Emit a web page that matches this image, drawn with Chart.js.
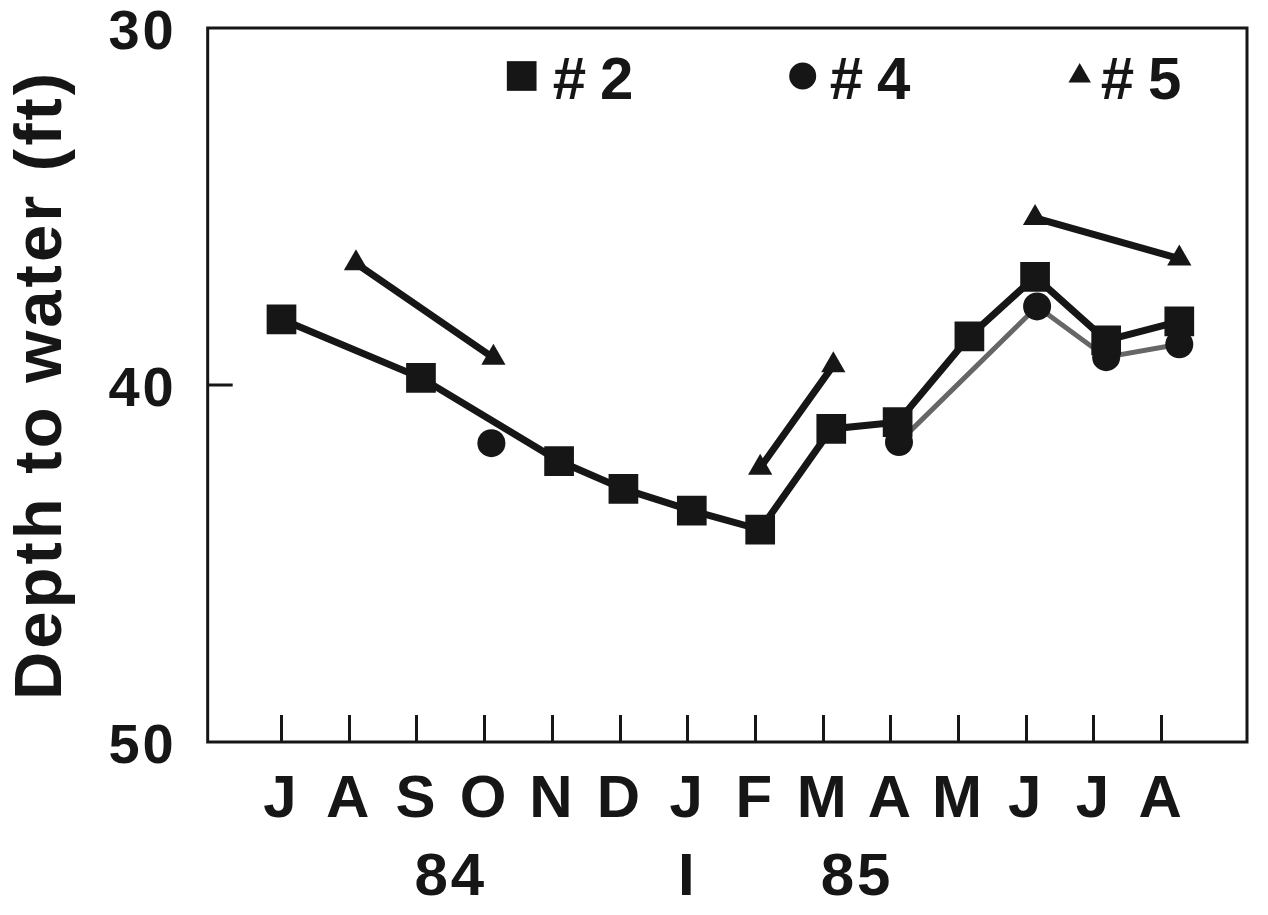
<!DOCTYPE html>
<html>
<head>
<meta charset="utf-8">
<title>Depth to water</title>
<script src="https://cdn.jsdelivr.net/npm/chart.js@4.4.0/dist/chart.umd.min.js"></script>
<style>
  html, body { margin: 0; padding: 0; background: #fff; }
  #chart { display: block; }
</style>
</head>
<body>
<canvas id="chart" width="1268" height="915"></canvas>
<script>
'use strict';

/*********** DATA ***********/
var months = ['J', 'A', 'S', 'O', 'N', 'D', 'J', 'F', 'M', 'A', 'M', 'J', 'J', 'A'];
var yearPositions = [2.5, 6, 8.5];
var yearLabels = ['84', 'I', '85'];

// month position (0 = July 84) and depth to water (ft) for each well
var well2Month = [0, 2.06, 4.1, 5.05, 6.06, 7.07, 8.12, 9.1, 10.16, 11.13, 12.18, 13.26];
var well2Depth = [38.16, 39.8, 42.13, 42.91, 43.52, 44.05, 41.23, 41.04, 38.64, 36.97, 38.75, 38.22];

var well4Month = [3.1, 6, 9.12, 11.16, 12.18, 13.26];
var well4Depth = [41.63, null, 41.6, 37.8, 39.22, 38.86];

var well5Month = [1.1, 3.13, 5, 7.07, 8.15, 9.5, 11.13, 13.26];
var well5Depth = [36.59, 39.24, null, 42.32, 39.45, null, 35.32, 36.46];

/*********** STYLE ***********/
var ink = '#161616';
var grey = '#666666';
var fontFamily = '"Liberation Sans", Arial, sans-serif';

/*********** FUNCTIONS ***********/
function toPoints(xs, ys) {
  var pts = [];
  for (var i = 0; i < xs.length; i++) {
    pts.push({x: xs[i], y: ys[i]});
  }
  return pts;
}

// month ticks plus the year marks written on a second line
function axisTicks() {
  var ticks = months.map(function(m, i) {
    return {value: i, label: m, month: true};
  });
  yearPositions.forEach(function(pos, j) {
    var same = ticks.filter(function(t) { return t.value === pos; })[0];
    if (same) {
      same.label = [same.label, yearLabels[j]];
    } else {
      ticks.push({value: pos, label: ['', yearLabels[j]], month: false});
    }
  });
  ticks.sort(function(a, b) { return a.value - b.value; });
  return ticks;
}
var xTicks = axisTicks();

// whole box round the plot area, plus the inner tick at 40 ft
var framePlugin = {
  id: 'frame',
  beforeDatasetsDraw: function(chart) {
    var ctx = chart.ctx;
    var a = chart.chartArea;
    var y = chart.scales.y;
    ctx.save();
    ctx.strokeStyle = ink;
    ctx.lineWidth = 3;
    ctx.strokeRect(a.left, a.top, a.right - a.left, a.bottom - a.top);
    y.ticks.forEach(function(t) {
      if (t.value === y.min || t.value === y.max) {
        return;
      }
      var py = y.getPixelForValue(t.value);
      ctx.beginPath();
      ctx.moveTo(a.left, py);
      ctx.lineTo(a.left + 25, py);
      ctx.stroke();
    });
    ctx.restore();
  }
};

// the key sits inside the plot, across the top
var keyPlugin = {
  id: 'plotKey',
  beforeUpdate: function(chart) {
    chart.ctx.letterSpacing = '3px';
  },
  afterDatasetsDraw: function(chart) {
    var ctx = chart.ctx;
    var a = chart.chartArea;
    var spots = [314, 595, 872];
    var gaps = [31, 27, 21];
    var sizes = [21, 13.5, 13];
    ctx.save();
    chart.data.datasets.forEach(function(ds, i) {
      var x = a.left + spots[i];
      var y = a.top + 48;
      ctx.fillStyle = ink;
      Chart.helpers.drawPoint(ctx, {pointStyle: ds.pointStyle, radius: sizes[i], borderWidth: 0, rotation: 0}, x, y);
      ctx.font = 'bold 60px ' + fontFamily;
      ctx.letterSpacing = '14px';
      ctx.textBaseline = 'middle';
      ctx.textAlign = 'left';
      ctx.fillText(ds.label, x + gaps[i], y + 6);
    });
    ctx.restore();
  }
};

/*********** CHART ***********/
var ctx = document.getElementById('chart').getContext('2d');

new Chart(ctx, {
  type: 'line',
  data: {
    datasets: [{
      label: '#2',
      data: toPoints(well2Month, well2Depth),
      borderColor: ink,
      borderWidth: 7,
      pointStyle: 'rect',
      pointRadius: 21,
      pointBackgroundColor: ink,
      pointBorderWidth: 0
    }, {
      label: '#4',
      data: toPoints(well4Month, well4Depth),
      borderColor: grey,
      borderWidth: 5,
      pointStyle: 'circle',
      pointRadius: 14,
      pointBackgroundColor: ink,
      pointBorderWidth: 0
    }, {
      label: '#5',
      data: toPoints(well5Month, well5Depth),
      borderColor: ink,
      borderWidth: 7,
      pointStyle: 'triangle',
      pointRadius: 14,
      pointBackgroundColor: ink,
      pointBorderWidth: 0
    }]
  },
  options: {
    responsive: false,
    animation: false,
    devicePixelRatio: 1,
    layout: {padding: {left: 0, right: 16, top: 28, bottom: -48}},
    plugins: {
      legend: {display: false},
      tooltip: {enabled: false}
    },
    scales: {
      x: {
        type: 'linear',
        position: 'bottom',
        min: -1.09,
        max: 14.26,
        afterBuildTicks: function(axis) {
          axis.ticks = xTicks.map(function(t) { return {value: t.value}; });
        },
        ticks: {
          autoSkip: false,
          maxRotation: 0,
          padding: 46,
          color: ink,
          font: {family: fontFamily, size: 60, weight: 'bold', lineHeight: 1.3},
          callback: function(value, index) { return xTicks[index].label; }
        },
        grid: {
          drawOnChartArea: false,
          tickLength: -27,
          lineWidth: 3,
          color: function(c) {
            return c.index !== undefined && xTicks[c.index] && xTicks[c.index].month ? ink : 'rgba(0,0,0,0)';
          }
        },
        border: {display: false}
      },
      y: {
        type: 'linear',
        reverse: true,
        min: 30,
        max: 50,
        ticks: {
          stepSize: 10,
          padding: 0,
          labelOffset: 6,
          color: ink,
          font: {family: fontFamily, size: 56, weight: 'bold', lineHeight: 1}
        },
        grid: {
          drawOnChartArea: false,
          tickLength: 31,
          color: 'rgba(0,0,0,0)'
        },
        border: {display: false},
        title: {
          display: true,
          text: 'Depth to water (ft)',
          color: ink,
          padding: {top: 2, bottom: 26},
          font: {family: fontFamily, size: 67, weight: 'bold', lineHeight: 1.2}
        }
      }
    }
  },
  plugins: [framePlugin, keyPlugin]
});
</script>
</body>
</html>
